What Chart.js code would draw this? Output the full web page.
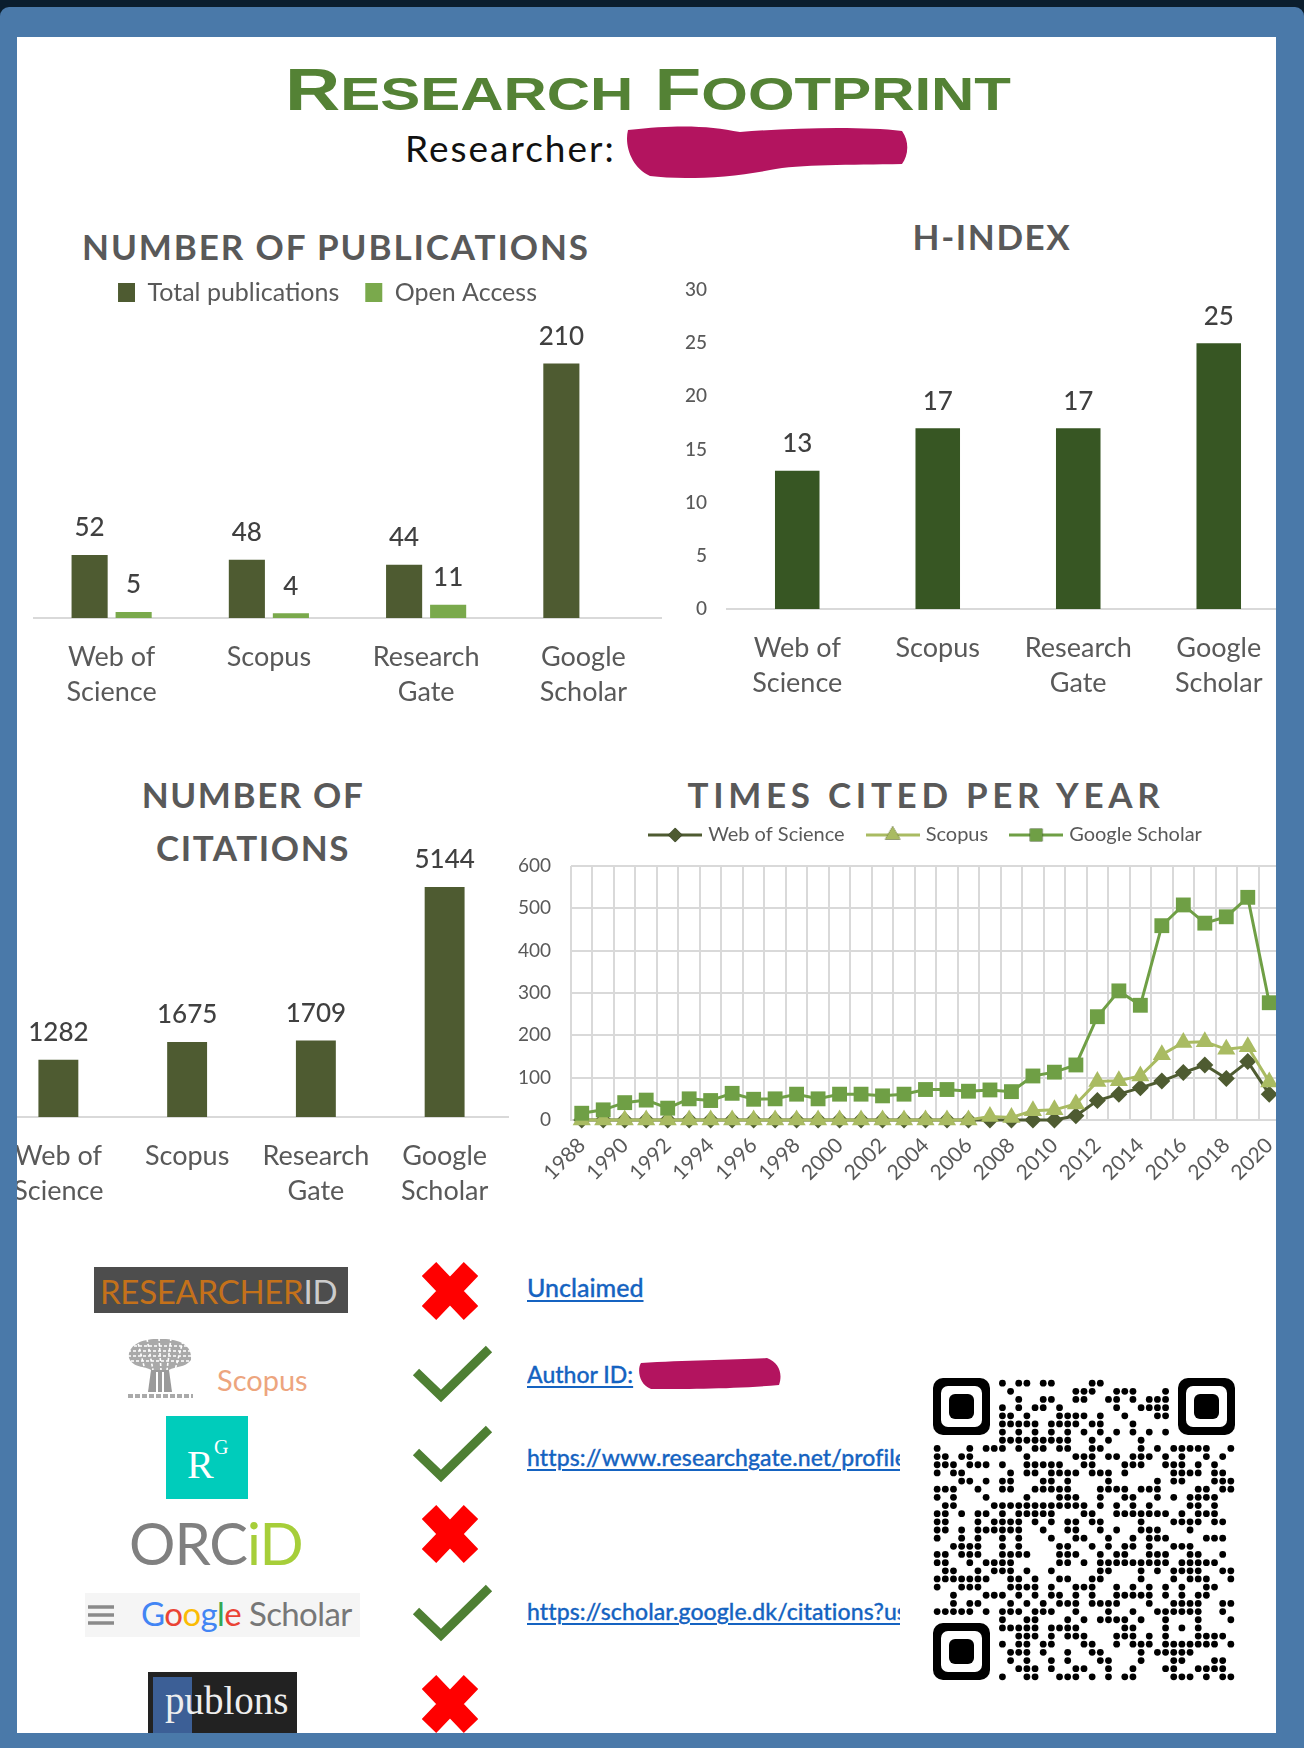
<!DOCTYPE html>
<html>
<head>
<meta charset="utf-8">
<title>Research Footprint</title>
<script src="https://cdn.jsdelivr.net/npm/chart.js@4"></script>
<style>
  html, body { margin: 0; padding: 0; background: #0b1e2e; }
  body { width: 1304px; height: 1748px; overflow: hidden; position: relative; font-family: Lato, sans-serif; }
  #frame { position: absolute; left: 0; top: 7px; width: 1304px; height: 1741px; background: #4a79a9; border-radius: 9px 9px 0 0; }
  #panel { position: absolute; left: 17px; top: 37px; width: 1259px; height: 1696px; background: #fff; overflow: hidden; }
  #page { position: absolute; left: -17px; top: -37px; width: 1304px; height: 1748px; }
  #page canvas, #page svg, .t, .box { position: absolute; }
  .t { white-space: nowrap; line-height: 1; }
  .c { transform: translateX(-50%); }
  .head { font-weight: 700; font-size: 35px; color: #595959; letter-spacing: 1.6px; }
  .lnk { color: #1563c1; font-size: 23px; font-weight: 500; -webkit-text-stroke: .3px #1563c1; text-decoration: underline; text-decoration-thickness: 2px; text-underline-offset: 3px; }
  #mainTitle { left: 648px; top: 60px; font: bold 60px/60px 'Liberation Sans'; color: #548235; transform: translateX(-50%) scaleX(1.275); }
  #mainTitle small { font-size: 47px; }
</style>
</head>
<body>
<div id="frame"></div>
<div id="panel"><div id="page">
  <div class="t" id="mainTitle">R<small>ESEARCH</small> F<small>OOTPRINT</small></div>
  <div class="t" style="left:405px;top:129px;font-size:37px;color:#111;letter-spacing:2px">Researcher:</div>
  <svg style="left:620px;top:122px" width="300" height="60"><path d="M8 8 C60 2 90 4 120 10 C170 6 240 4 282 9 C290 20 288 34 282 42 C230 43 180 42 150 48 C110 56 60 58 30 54 C12 46 4 24 8 8Z" fill="#b3145f"/></svg>

  <div class="t c head" style="left:336px;top:229px;letter-spacing:1.9px">NUMBER OF PUBLICATIONS</div>
  <div class="t c head" style="left:992px;top:219px">H-INDEX</div>
  <div class="t c head" style="left:253px;top:777px">NUMBER OF</div>
  <div class="t c head" style="left:253px;top:830px">CITATIONS</div>
  <div class="t c head" style="left:926px;top:777px;letter-spacing:4.7px">TIMES CITED PER YEAR</div>

  <canvas id="pubChart" width="629" height="454" style="left:33px;top:254px"></canvas>
  <canvas id="hChart" width="609" height="430" style="left:680px;top:270px"></canvas>
  <canvas id="citeChart" width="515" height="367" style="left:-6px;top:840px"></canvas>
  <canvas id="yearChart" width="770" height="402" style="left:510px;top:798px"></canvas>
  <canvas id="qrChart" width="310" height="310" style="left:929px;top:1375px"></canvas>

  <div class="box" style="left:933px;top:1378px;width:57px;height:57px;background:#000;border-radius:10px"></div>
  <div class="box" style="left:941px;top:1386px;width:41px;height:41px;background:#fff;border-radius:7px"></div>
  <div class="box" style="left:949px;top:1394px;width:25px;height:25px;background:#000;border-radius:6px"></div>
  <div class="box" style="left:1178px;top:1378px;width:57px;height:57px;background:#000;border-radius:10px"></div>
  <div class="box" style="left:1186px;top:1386px;width:41px;height:41px;background:#fff;border-radius:7px"></div>
  <div class="box" style="left:1194px;top:1394px;width:25px;height:25px;background:#000;border-radius:6px"></div>
  <div class="box" style="left:933px;top:1623px;width:57px;height:57px;background:#000;border-radius:10px"></div>
  <div class="box" style="left:941px;top:1631px;width:41px;height:41px;background:#fff;border-radius:7px"></div>
  <div class="box" style="left:949px;top:1639px;width:25px;height:25px;background:#000;border-radius:6px"></div>

  <!-- logos -->
  <div class="box" style="left:94px;top:1267px;width:254px;height:46px;background:#4d4d4d"></div>
  <div class="t" style="left:100px;top:1275px;font-size:33px;color:#c4711a;letter-spacing:-.3px">RESEARCHER<span style="color:#ccc">ID</span></div>

  <svg style="left:125px;top:1336px" width="72" height="64">
    <path d="M4 22C2 8 20 2 34 3C52 2 68 8 66 24C60 32 50 30 44 34H26C20 30 8 32 4 22Z" fill="#a9a9a9"/>
    <path d="M4 10H66M3 15H67M3 20H67M6 25H64M12 3L20 34M22 3L28 34M34 2L36 34M46 2L42 34M58 5L50 34" stroke="#fff" stroke-width="1.6" stroke-dasharray="3 2"/>
    <path d="M26 34H44L47 56H23Z" fill="#9a9a9a"/>
    <path d="M32 36V56M38 36V56" stroke="#fff" stroke-width="2"/>
    <path d="M3 60H68" stroke="#aaa" stroke-width="4" stroke-dasharray="5 2"/>
  </svg>
  <div class="t" style="left:217px;top:1365px;font-size:29px;color:#eda57e">Scopus</div>

  <div class="box" style="left:166px;top:1416px;width:82px;height:83px;background:#00ccbb"></div>
  <div class="t" style="left:187px;top:1441px;font:40px 'Liberation Serif';color:#fff">R</div>
  <div class="t" style="left:214px;top:1436px;font:20px 'Liberation Serif';color:#fff">G</div>

  <div class="t" style="left:129px;top:1514px;font-size:58px;color:#808080;letter-spacing:-1px">ORC<span style="color:#a6ce39">iD</span></div>

  <div class="box" style="left:85px;top:1593px;width:275px;height:44px;background:#f5f5f5"></div>
  <svg style="left:87px;top:1603px" width="28" height="26"><path d="M1 4H27M1 12H27M1 20H27" stroke="#8a8a8a" stroke-width="3.5"/></svg>
  <div class="t" style="left:141px;top:1597px;font-size:33px;letter-spacing:-.6px"><span style="color:#4285f4">G</span><span style="color:#ea4335">o</span><span style="color:#fbbc05">o</span><span style="color:#4285f4">g</span><span style="color:#34a853">l</span><span style="color:#ea4335">e</span> <span style="color:#777">Scholar</span></div>

  <div class="box" style="left:148px;top:1672px;width:149px;height:62px;background:#222"></div>
  <div class="box" style="left:153px;top:1677px;width:39px;height:57px;background:#3c5f96"></div>
  <div class="t" style="left:165px;top:1678px;font:39px 'Liberation Serif';color:#eee">publons</div>

  <!-- status marks -->
  <svg style="left:415px;top:1255px" width="70" height="70"><path d="M14 14L56 58M56 14L14 58" stroke="#f00" stroke-width="20"/></svg>
  <svg style="left:415px;top:1498px" width="70" height="70"><path d="M14 14L56 58M56 14L14 58" stroke="#f00" stroke-width="20"/></svg>
  <svg style="left:415px;top:1668px" width="70" height="70"><path d="M14 14L56 58M56 14L14 58" stroke="#f00" stroke-width="20"/></svg>
  <svg style="left:410px;top:1344px" width="84" height="62"><path d="M6 28L31 52L79 5" fill="none" stroke="#4e7f33" stroke-width="9"/></svg>
  <svg style="left:410px;top:1424px" width="84" height="62"><path d="M6 28L31 52L79 5" fill="none" stroke="#4e7f33" stroke-width="9"/></svg>
  <svg style="left:410px;top:1583px" width="84" height="62"><path d="M6 28L31 52L79 5" fill="none" stroke="#4e7f33" stroke-width="9"/></svg>

  <!-- links -->
  <div class="t lnk" style="left:527px;top:1275px;font-size:25px">Unclaimed</div>
  <div class="t lnk" style="left:527px;top:1363px;width:120px;overflow:hidden;padding-bottom:6px">Author ID:</div>
  <svg style="left:635px;top:1355px" width="152" height="40"><path d="M6 8 C50 5 100 5 132 3 C144 8 148 18 144 30 C100 34 50 34 16 34 C4 30 2 14 6 8Z" fill="#b3145f"/></svg>
  <div class="t lnk" style="left:527px;top:1446px;width:373px;overflow:hidden;padding-bottom:6px;letter-spacing:.1px">https://www.researchgate.net/profile</div>
  <div class="t lnk" style="left:527px;top:1600px;width:373px;overflow:hidden;padding-bottom:6px;letter-spacing:.1px">https://scholar.google.dk/citations?user</div>
</div></div>

<script>
var sourceCats = [['Web of', 'Science'], 'Scopus', ['Research', 'Gate'], ['Google', 'Scholar']];
var totalPubs = [52, 48, 44, 210];
var openAccess = [5, 4, 11, null];
var hIndex = [13, 17, 17, 25];
var citations = [1282, 1675, 1709, 5144];

var years = ['1988', '1989', '1990', '1991', '1992', '1993', '1994', '1995', '1996', '1997', '1998',
  '1999', '2000', '2001', '2002', '2003', '2004', '2005', '2006', '2007', '2008', '2009', '2010',
  '2011', '2012', '2013', '2014', '2015', '2016', '2017', '2018', '2019', '2020'];
var wosPerYear = [0, 0, 0, 0, 0, 0, 0, 0, 0, 0, 0, 0, 0, 0, 0, 0, 0, 0, 0, 0, 0, 0, 0,
  10, 46, 61, 76, 92, 112, 130, 98, 138, 61];
var scopusPerYear = [0, 0, 0, 0, 0, 0, 0, 0, 0, 0, 0, 0, 0, 0, 0, 0, 0, 0, 0, 8, 6, 22, 24,
  38, 91, 93, 104, 154, 183, 185, 167, 173, 90];
var scholarPerYear = [16, 24, 41, 47, 28, 50, 46, 63, 49, 50, 61, 50, 61, 61, 57, 61, 72, 72, 68, 71, 67, 104, 113,
  130, 244, 305, 271, 459, 508, 465, 480, 526, 277];

// dark modules of the qr code, one list of columns per row
var qrRows = [
  [8,10,11,13,14,19,20],
  [9,17,18,19,22,23,24,28],
  [10,13,14,17,18,21,22,24,26,27,28],
  [8,10,12,13,15,22,25,26,27,28],
  [8,9,11,15,16,17,18,20,23,27,28],
  [8,9,10,11,12,14,15,16,17,19,20,24],
  [8,10,12,14,16,18,20,22,24,26,28],
  [8,9,10,11,12,13,14,15,16,19,21,25],
  [0,4,6,7,8,10,12,13,15,16,19,20,25,27,29,30,31,32,33,36],
  [0,1,3,4,11,17,18,19,21,22,24,25,26,28,30,33,35],
  [0,1,2,4,5,6,8,11,12,13,14,15,18,19,23,24,25,28,29,30,32,34],
  [0,2,3,9,11,12,14,15,16,17,19,20,21,23,29,30,31,32,34,35],
  [3,4,6,8,9,13,14,16,21,27,29,30,34,35,36],
  [0,1,2,5,8,9,12,13,14,15,16,20,21,22,23,25,26,27,32,33,35,36],
  [0,2,6,11,15,16,17,20,23,24,27,29,31,32,33,34],
  [1,2,7,8,9,10,11,12,13,14,15,16,17,18,20,22,24,26,31,32,34],
  [0,1,3,5,6,8,10,11,12,13,14,18,19,22,23,24,25,26,27,28,30,32,33,34],
  [0,1,5,7,8,9,10,12,14,16,17,19,20,25,29,30,31,32,34,35],
  [0,1,3,5,6,7,8,9,10,13,16,17,20,22,25,26,27,31],
  [0,3,5,8,10,14,17,18,21,24,26,27,28,33,34,35],
  [2,3,4,5,8,10,15,16,19,21,23,24,26,29,30,31],
  [0,1,3,4,5,8,9,10,11,15,16,17,20,22,23,26,27,28,31,32,35],
  [0,1,4,6,7,8,9,15,16,18,20,21,22,23,24,25,26,27,28,30,31,32,33,34],
  [1,2,5,7,8,9,11,14,20,21,25,27,29,30,31,32,35,36],
  [0,1,2,3,4,5,6,9,10,12,15,16,19,20,25,29,31,32,33,36],
  [0,3,4,5,9,10,11,12,14,17,18,19,22,24,26,28,30,33,34],
  [2,6,7,8,10,12,14,15,17,19,22,23,24,25,26,28,30,32,33],
  [2,4,5,9,11,13,15,16,17,19,20,21,22,26,29,30,31,32,35,36],
  [0,1,2,3,4,6,8,9,10,12,13,14,17,21,24,27,28,29,30,31,32,35],
  [8,11,12,16,18,20,21,22,23,25,28,32,36],
  [8,9,10,11,12,14,15,16,17,23,24,28,30,32],
  [10,11,12,14,16,17,18,22,23,24,26,28,32,33,34,35],
  [8,10,11,13,14,18,19,22,24,25,26,28,29,30,31,32,33,34,36],
  [9,10,11,13,16,19,20,25,27,28,29,30,31],
  [9,11,14,16,20,21,25,29,30,34,35],
  [10,11,12,14,17,18,21,24,28,29,32,33,34,35],
  [8,11,12,15,16,17,19,21,23,24,29,30,31,33,35,36]
];

var textGrey = '#595959';
var axisGrey = '#d9d9d9';
var olive = '#4e5b31';

Chart.defaults.font.family = 'Lato';
Chart.defaults.color = textGrey;
Chart.defaults.animation = false;
Chart.defaults.responsive = false;

// prints the value over each bar
var barValues = {
  id: 'barValues',
  afterDatasetsDraw: function(chart) {
    var ctx = chart.ctx;
    ctx.save();
    ctx.font = '500 26px Lato';
    ctx.fillStyle = '#404040';
    ctx.textAlign = 'center';
    ctx.textBaseline = 'bottom';
    chart.data.datasets.forEach(function(ds, i) {
      chart.getDatasetMeta(i).data.forEach(function(bar, j) {
        if (ds.data[j] === null) return;
        ctx.fillText(ds.data[j], bar.x, bar.y - 14);
      });
    });
    ctx.restore();
  }
};

// chart.js only centres a legend on the whole canvas, so nudge it
var legendShift = {
  id: 'legendShift',
  afterLayout: function(chart, args, opts) {
    chart.legend.left += opts.dx || 0;
    chart.legend.right += opts.dx || 0;
    chart.legend.top += opts.dy || 0;
    chart.legend.bottom += opts.dy || 0;
  }
};

// fixed axis size, and no extra room for tick labels that overhang the plot
function fixAxis(size) {
  return function(scale) {
    if (scale.isHorizontal()) scale.height = size; else scale.width = size;
    scale.paddingLeft = scale.paddingRight = scale.paddingTop = scale.paddingBottom = 0;
  };
}

function categoryAxis(height) {
  return {
    afterFit: fixAxis(height),
    grid: { display: false, drawTicks: false },
    border: { color: axisGrey, width: 2 },
    ticks: {
      autoSkip: false, maxRotation: 0, padding: 21, color: textGrey,
      font: { size: 27, lineHeight: 1.32 }
    }
  };
}

new Chart(document.getElementById('pubChart'), {
  type: 'bar',
  data: {
    labels: sourceCats,
    datasets: [
      { label: 'Total publications', data: totalPubs, backgroundColor: olive, categoryPercentage: 0.56, barPercentage: 0.82 },
      { label: 'Open Access', data: openAccess, backgroundColor: '#7aa94c', categoryPercentage: 0.56, barPercentage: 0.82 }
    ]
  },
  options: {
    layout: { autoPadding: false },
    scales: {
      x: categoryAxis(90),
      y: { display: false, min: 0, max: 250 }
    },
    plugins: {
      tooltip: { enabled: false },
      legendShift: { dx: -20 },
      legend: {
        labels: { boxWidth: 17, boxHeight: 19, padding: 26, color: textGrey, font: { size: 25 } }
      }
    }
  },
  plugins: [barValues, legendShift]
});

new Chart(document.getElementById('hChart'), {
  type: 'bar',
  data: {
    labels: sourceCats,
    datasets: [{ label: 'H-index', data: hIndex, backgroundColor: '#375623', categoryPercentage: 1, barPercentage: 0.317 }]
  },
  options: {
    layout: { autoPadding: false, padding: { top: 20 } },
    scales: {
      x: categoryAxis(91),
      y: {
        min: 0, max: 30,
        afterFit: fixAxis(47),
        grid: { display: false, drawTicks: false },
        border: { display: false },
        ticks: { stepSize: 5, padding: 20, color: textGrey, font: { size: 19, weight: '500' } }
      }
    },
    plugins: { legend: { display: false }, tooltip: { enabled: false } }
  },
  plugins: [barValues]
});

new Chart(document.getElementById('citeChart'), {
  type: 'bar',
  data: {
    labels: sourceCats,
    datasets: [{ label: 'Citations', data: citations, backgroundColor: olive, categoryPercentage: 1, barPercentage: 0.31 }]
  },
  options: {
    layout: { autoPadding: false },
    scales: {
      x: categoryAxis(90),
      y: { display: false, min: 0, max: 6195 }
    },
    plugins: { legend: { display: false }, tooltip: { enabled: false } }
  },
  plugins: [barValues]
});

var yearSeries = [
  { label: 'Web of Science', data: wosPerYear, color: olive, style: 'rectRot', radius: 8.5, order: 3 },
  { label: 'Scopus', data: scopusPerYear, color: '#a9bb62', style: 'triangle', radius: 10.5, order: 2 },
  { label: 'Google Scholar', data: scholarPerYear, color: '#6f9f45', style: 'rect', radius: 10.5, order: 1 }
];

// legend sample: the line with its marker on top
function legendSample(s) {
  var cv = document.createElement('canvas');
  cv.width = 54;
  cv.height = 20;
  var c = cv.getContext('2d');
  c.strokeStyle = s.color;
  c.lineWidth = 3;
  c.beginPath();
  c.moveTo(0, 10);
  c.lineTo(54, 10);
  c.stroke();
  Chart.helpers.drawPoint(c, { pointStyle: s.style, radius: s.radius * 0.85, borderWidth: 0 }, 27, 10);
  c.fillStyle = s.color;
  c.fill();
  return cv;
}

new Chart(document.getElementById('yearChart'), {
  type: 'line',
  data: {
    labels: years,
    datasets: yearSeries.map(function(s) {
      return {
        label: s.label, data: s.data, order: s.order, clip: false,
        borderColor: s.color, backgroundColor: s.color, borderWidth: 3,
        pointStyle: s.style, pointRadius: s.radius, pointBorderWidth: 0, tension: 0
      };
    })
  },
  options: {
    layout: { autoPadding: false, padding: { top: 13 } },
    scales: {
      x: {
        offset: true,
        afterFit: fixAxis(80),
        grid: { offset: true, color: axisGrey, lineWidth: 2, drawTicks: false },
        border: { color: axisGrey, width: 2 },
        ticks: {
          autoSkip: false, minRotation: 45, maxRotation: 45, padding: 13, color: textGrey, font: { size: 21 },
          callback: function(v, i) { return i % 2 === 0 ? years[i] : ''; }
        }
      },
      y: {
        min: 0, max: 600,
        afterFit: fixAxis(61),
        grid: { color: axisGrey, lineWidth: 2, drawTicks: false },
        border: { display: false },
        ticks: { stepSize: 100, padding: 20, color: textGrey, font: { size: 19 } }
      }
    },
    plugins: {
      tooltip: { enabled: false },
      legendShift: { dx: 32, dy: -11 },
      legend: {
        labels: {
          usePointStyle: true, pointStyleWidth: 46, padding: 25, color: textGrey, font: { size: 20 },
          generateLabels: function() {
            return yearSeries.map(function(s, i) {
              return { text: s.label, datasetIndex: i, pointStyle: legendSample(s), fontColor: textGrey, lineWidth: 0, strokeStyle: 'transparent', fillStyle: 'transparent' };
            });
          }
        }
      }
    }
  },
  plugins: [legendShift]
});

var qrPoints = [];
qrRows.forEach(function(cols, row) {
  cols.forEach(function(col) { qrPoints.push({ x: col, y: row }); });
});

new Chart(document.getElementById('qrChart'), {
  type: 'scatter',
  data: { datasets: [{ data: qrPoints, backgroundColor: '#000', pointRadius: 3.4, pointBorderWidth: 0 }] },
  options: {
    layout: { autoPadding: false },
    scales: {
      x: { display: false, min: -1, max: 37 },
      y: { display: false, min: -1, max: 37, reverse: true }
    },
    plugins: { legend: { display: false }, tooltip: { enabled: false } }
  }
});
</script>
</body>
</html>
